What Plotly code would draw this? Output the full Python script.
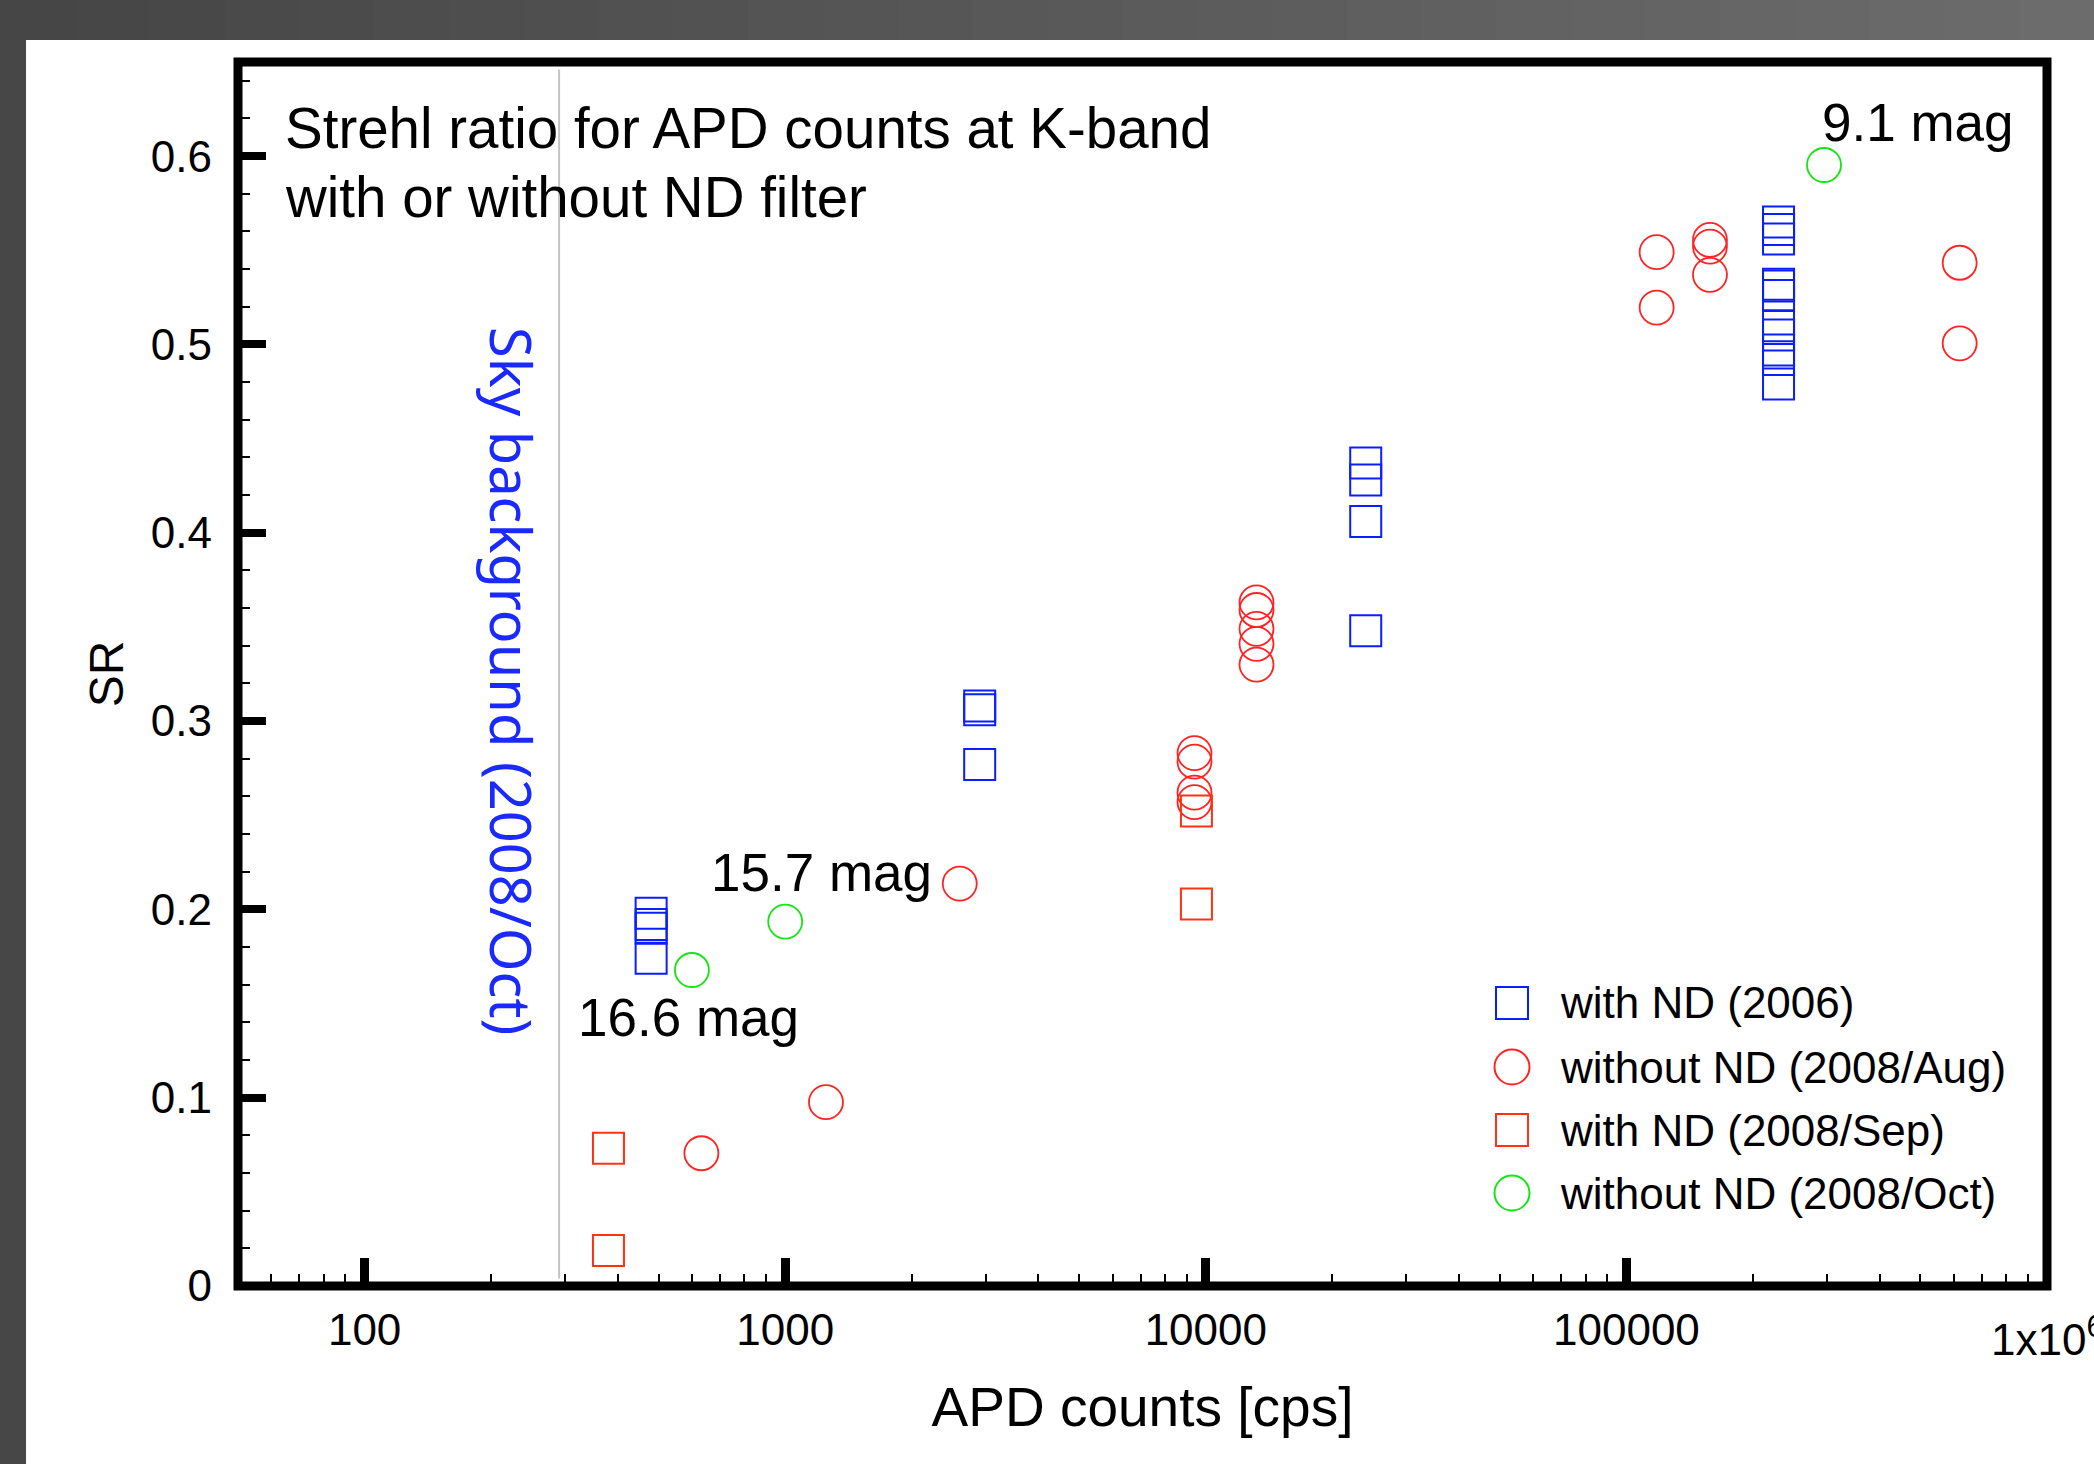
import plotly.graph_objects as go

# ---------------- data ----------------
nd2006_x = [480, 480, 480, 480, 2900, 2900, 2900, 24000, 24000, 24000, 24000,
            230000, 230000, 230000, 230000, 230000, 230000, 230000, 230000,
            230000, 230000, 230000]
nd2006_y = [0.198, 0.192, 0.190, 0.174, 0.308, 0.306, 0.277, 0.437, 0.428, 0.406, 0.348,
            0.565, 0.561, 0.556, 0.532, 0.531, 0.526, 0.510, 0.505, 0.497, 0.492, 0.479]

aug_x = [632, 1250, 2600, 9400, 9400, 9400, 9400, 13200, 13200, 13200, 13200, 13200,
         118000, 118000, 158000, 158000, 158000, 620000, 620000]
aug_y = [0.0705, 0.0976, 0.2137, 0.283, 0.2785, 0.262, 0.257, 0.363, 0.359, 0.349, 0.341, 0.330,
         0.549, 0.5196, 0.5555, 0.552, 0.537, 0.5434, 0.5006]

sep_x = [380, 380, 9500, 9500]
sep_y = [0.0731, 0.0188, 0.2523, 0.2029]

oct_x = [600, 1000, 295000]
oct_y = [0.1678, 0.1935, 0.5953]
oct_labels = ["16.6 mag", "15.7 mag", "9.1 mag"]

sky_background_cps = 290

x_tick_vals = [100, 1000, 10000, 100000]
x_tick_text = ["100", "1000", "10000", "100000"]
x_last_tick = 1000000
x_last_tick_text = "1x10<sup>6</sup>"
y_tick_vals = [0, 0.1, 0.2, 0.3, 0.4, 0.5, 0.6]
y_tick_text = ["0", "0.1", "0.2", "0.3", "0.4", "0.5", "0.6"]

series_names = ["with ND (2006)", "without ND (2008/Aug)", "with ND (2008/Sep)", "without ND (2008/Oct)"]
title_lines = ["Strehl ratio for APD counts at K-band", "with or without ND filter"]

# ---------------- style ----------------
FONT = "Liberation Sans, Arial, Helvetica, sans-serif"
BLUE = "#0a1eff"
RED_C = "#ff2424"
RED_S = "#ff3311"
GREEN = "#14e614"
SQ = 31
CI = 34
LW = 2

W, H = 2094, 1464
ML, MR, MT, MB = 238, 47, 62, 178
PW, PH = W - ML - MR, H - MT - MB


def px(xp):
    return (xp - ML) / PW


def py(yp):
    return (H - MB - yp) / PH


fig = go.Figure()

fig.add_trace(go.Scatter(x=nd2006_x, y=nd2006_y, mode="markers", name=series_names[0],
                         marker=dict(symbol="square-open", size=SQ, color=BLUE, line=dict(width=LW, color=BLUE))))
fig.add_trace(go.Scatter(x=aug_x, y=aug_y, mode="markers", name=series_names[1],
                         marker=dict(symbol="circle-open", size=CI, color=RED_C, line=dict(width=1.8, color=RED_C))))
fig.add_trace(go.Scatter(x=sep_x, y=sep_y, mode="markers", name=series_names[2],
                         marker=dict(symbol="square-open", size=SQ, color=RED_S, line=dict(width=LW, color=RED_S))))
fig.add_trace(go.Scatter(x=oct_x, y=oct_y, mode="markers", name=series_names[3],
                         marker=dict(symbol="circle-open", size=CI, color=GREEN, line=dict(width=1.8, color=GREEN))))

shapes = []
# slide background bands (grey gradient at top, grey strip at left)
n = 28
for i in range(n):
    t = i / (n - 1)
    c = int(0x46 + (0x6c - 0x46) * t)
    col = "#%02x%02x%02x" % (c, c, c)
    x0 = i * W / n
    x1 = (i + 1) * W / n + 1
    shapes.append(dict(type="rect", xref="paper", yref="paper", layer="below",
                       x0=px(x0), x1=px(x1), y0=py(40), y1=py(0),
                       fillcolor=col, line=dict(width=0)))
shapes.append(dict(type="rect", xref="paper", yref="paper", layer="below",
                   x0=px(0), x1=px(26), y0=py(H), y1=py(40),
                   fillcolor="#474747", line=dict(width=0)))
# sky background line
shapes.append(dict(type="line", xref="x", yref="y", layer="below",
                   x0=sky_background_cps, x1=sky_background_cps, y0=0.004, y1=0.646,
                   line=dict(color="#c4c4c4", width=2)))
# plot frame centred on the axis edges
shapes.append(dict(type="rect", xref="paper", yref="paper", layer="above",
                   x0=0, x1=1, y0=0, y1=1, line=dict(color="black", width=9),
                   fillcolor="rgba(0,0,0,0)"))

annotations = []
for line_text, yc in zip(title_lines, [128, 197]):
    annotations.append(dict(xref="paper", yref="paper", x=px(283), y=py(yc), xanchor="left", yanchor="middle",
                            text=line_text, showarrow=False,
                            font=dict(family=FONT, size=56.5, color="black")))
annotations.append(dict(xref="paper", yref="paper", x=px(512), y=py(681), xanchor="center", yanchor="middle",
                        text="Sky background (2008/Oct)", textangle=90, showarrow=False,
                        font=dict(family="Noto Sans, Open Sans, sans-serif", size=56, color="#1a2aff")))
# magnitude labels
mag_pos = [(576, 1017), (709, 872), (1820, 122)]
for lab, (ax_, ay_) in zip(oct_labels, mag_pos):
    annotations.append(dict(xref="paper", yref="paper", x=px(ax_), y=py(ay_), xanchor="left", yanchor="middle",
                            text=lab, showarrow=False, font=dict(family=FONT, size=53, color="black")))
# last x tick label (gnuplot style, runs off the right edge)
annotations.append(dict(xref="x", yref="paper", x=6.0, y=py(1336), xanchor="center", yanchor="middle",
                        text=x_last_tick_text, showarrow=False,
                        font=dict(family=FONT, size=44, color="black")))

# hand-drawn legend (plotly caps legend symbol size)
leg_rows = [1003, 1067, 1130, 1193]
leg_cols = [(BLUE, "sq"), (RED_C, "ci"), (RED_S, "sq"), (GREEN, "ci")]
for yrow, (col, kind), name in zip(leg_rows, leg_cols, series_names):
    half = 16 if kind == "sq" else 17.5
    shapes.append(dict(type="rect" if kind == "sq" else "circle", xref="paper", yref="paper",
                       xsizemode="pixel", ysizemode="pixel", xanchor=px(1512), yanchor=py(yrow),
                       x0=-half, x1=half, y0=-half, y1=half,
                       line=dict(color=col, width=LW), fillcolor="rgba(0,0,0,0)"))
    annotations.append(dict(xref="paper", yref="paper", x=px(1558), y=py(yrow), xanchor="left", yanchor="middle",
                            text=name, showarrow=False, font=dict(family=FONT, size=44, color="black")))

x_minor = [m * 10 ** k for k in range(1, 6) for m in range(2, 10) if 50 <= m * 10 ** k <= 1e6]
y_minor = [round(i * 0.02, 2) for i in range(1, 33) if round(i * 0.02, 2) not in y_tick_vals]

fig.update_layout(
    width=W, height=H,
    margin=dict(l=ML, r=MR, t=MT, b=MB, pad=0, autoexpand=False),
    paper_bgcolor="white", plot_bgcolor="white",
    showlegend=False,
    shapes=shapes, annotations=annotations,
    font=dict(family=FONT, color="black"),
    xaxis=dict(type="log", range=[1.69897, 6.0], showgrid=False, zeroline=False,
               showline=False, automargin=False,
               ticks="inside", ticklen=28, tickwidth=9, tickcolor="black",
               tickmode="array", tickvals=x_tick_vals, ticktext=x_tick_text,
               tickfont=dict(family=FONT, size=44, color="black"),
               ticklabelstandoff=14,
               minor=dict(tickmode="array", tickvals=x_minor, ticks="inside", ticklen=12, tickwidth=2,
                          tickcolor="black", showgrid=False),
               title=dict(text="APD counts [cps]", font=dict(family=FONT, size=55, color="black"), standoff=34)),
    yaxis=dict(range=[0, 0.65], showgrid=False, zeroline=False,
               showline=False, automargin=False,
               ticks="inside", ticklen=28, tickwidth=8, tickcolor="black",
               tickmode="array", tickvals=y_tick_vals, ticktext=y_tick_text,
               tickfont=dict(family=FONT, size=44, color="black"),
               ticklabelstandoff=25,
               minor=dict(tickmode="array", tickvals=y_minor, ticks="inside", ticklen=12, tickwidth=2,
                          tickcolor="black", showgrid=False),
               title=dict(text="SR", font=dict(family=FONT, size=48, color="black"), standoff=12)),
)

fig.write_html("out.html")
